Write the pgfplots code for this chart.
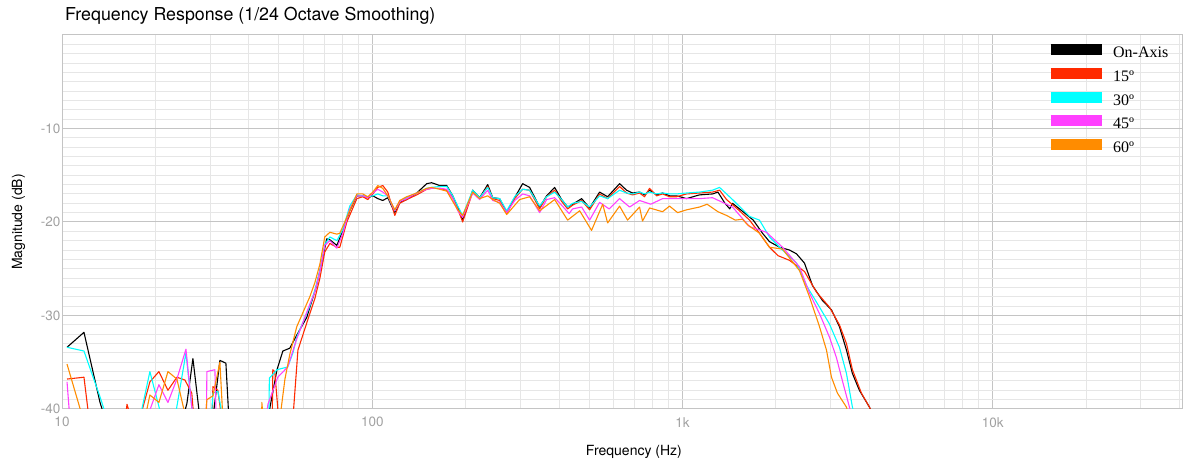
\documentclass[border=0pt]{standalone}
\usepackage{fontspec}
\setmainfont{TeX Gyre Heros}
\newfontfamily\legendfont{Liberation Serif}
\usepackage{pgfplots}
\pgfplotsset{compat=1.18}
\definecolor{cRed}{HTML}{FF2A00}
\definecolor{cCyan}{HTML}{00FFFF}
\definecolor{cMag}{HTML}{FF40FF}
\definecolor{cOra}{HTML}{FF8C00}
\definecolor{gMajor}{HTML}{C4C4C4}
\definecolor{gMinor}{HTML}{E6E6E6}
\definecolor{tickgray}{HTML}{A0A0A0}
\begin{document}
\begin{tikzpicture}
\useasboundingbox (-62pt,-56pt) rectangle (1140pt,409pt);
\begin{axis}[
  at={(0pt,0pt)}, anchor=south west,
  scale only axis, width=1121pt, height=374pt,
  xmode=log, xmin=10, xmax=41000, ymin=-40, ymax=0,
  xtick={10,100,1000,10000}, xticklabels={10,100,1k,10k},
  minor xtick={20,30,40,50,60,70,80,90,200,300,400,500,600,700,800,900,2000,3000,4000,5000,6000,7000,8000,9000,20000,30000,40000},
  ytick={-40,-30,-20,-10}, yticklabels={-40,-30,-20,-10},
  minor ytick={-39,-38,...,-1},
  grid=both,
  major grid style={draw=gMajor, line width=1pt},
  minor grid style={draw=gMinor, line width=1pt},
  axis line style={draw=gMajor, line width=1pt},
  major tick length=0pt, minor tick length=0pt,
  tick label style={color=tickgray, font=\fontsize{13.5}{16}\selectfont},
  yticklabel style={inner sep=1.5pt},
  xticklabel style={inner sep=0pt, yshift=-8pt},
  xlabel={Frequency (Hz)}, ylabel={Magnitude (dB)},
  label style={font=\fontsize{14}{16}\selectfont},
  xlabel style={at={(axis description cs:0.5102,-0.115)}, anchor=center},
  ylabel style={at={(axis description cs:-0.0388,0.5)}, anchor=center},
  no markers,
  every axis plot/.append style={line width=1.1pt, line join=round},
  legend image code/.code={\draw[line width=11pt] (0pt,3.5pt) -- (51pt,3.5pt);},
  legend style={draw=none, fill=none, at={(0.8769,0.9767)}, anchor=north west,
    inner sep=0pt, row sep=7.3pt, font=\legendfont\fontsize{16}{19}\selectfont,
    nodes={inner sep=0pt, text height=12pt, text depth=3pt},
    /tikz/every odd column/.append style={column sep=6pt}},
  legend cell align=left,
]
% On-Axis
\addplot[color=black] coordinates {
(10.38,-33.4) (11.77,-31.8) (13.26,-39.3) (13.76,-41) (14.2,-50) (24.0,-50)
(24.53,-41) (25.27,-39.4) (26.42,-34.6) (27.83,-41) (28.5,-50) (30.2,-50)
(30.64,-41) (32.28,-34.8) (33.75,-35.1) (34.5,-41) (35.5,-50) (45.5,-50)
(46.1,-41) (49.3,-35.8) (51.5,-33.8) (54.2,-33.5) (57.1,-32.1) (61.5,-30.2)
(65.9,-27.0) (69.0,-24.1) (71.3,-21.8) (73.0,-21.9) (76.9,-22.5) (80.4,-20.9)
(84.6,-18.8) (89.2,-17.2) (93.2,-17.2) (96.7,-17.4) (100.4,-17.2) (104.2,-17.5)
(108.1,-17.7) (112.2,-17.4) (118.2,-19.0) (122.6,-17.9) (129.1,-17.6) (139.1,-16.9)
(149.8,-15.9) (155.4,-15.8) (165.0,-16.1) (173.8,-16.1) (181.7,-17.2) (188.6,-18.4)
(195.6,-19.8) (210.7,-16.6) (221.9,-17.4) (235.5,-16.0) (244.4,-17.4) (257.4,-17.5)
(271.2,-19.0) (287.7,-17.4) (305.2,-15.9) (321.5,-16.3) (346.3,-18.4) (364.8,-17.2)
(387.1,-16.3) (407.7,-17.6) (426.2,-18.4) (442.3,-18.1) (472.9,-17.5) (501.7,-18.5)
(540.3,-16.8) (573.5,-17.3) (626.8,-15.9) (660.1,-16.6) (690.2,-16.9) (726.9,-16.8)
(754.4,-17.1) (783.0,-16.6) (824.7,-17.1) (862.1,-16.9) (908.1,-17.2) (956.5,-17.2)
(1030,-17.5) (1134,-17.1) (1249,-17.0) (1300,-16.8) (1370,-18.0) (1420,-18.6)
(1449,-18.0) (1540,-18.7) (1690,-19.8) (1810,-21.2) (1906,-22.1) (2054,-22.7)
(2211,-23.0) (2329,-23.4) (2472,-24.4) (2623,-26.8) (2825,-28.4) (3020,-29.4)
(3204,-31.2) (3375,-33.7) (3528,-36.2) (3715,-38.0) (4003,-39.8) (4154,-41)
};
\addlegendentry{On-Axis}
% 15
\addplot[color=cRed] coordinates {
(10.38,-36.8) (11.77,-36.6) (12.22,-41) (12.6,-50) (15.8,-50) (16.0,-41) (16.2,-39.5)
(16.7,-41) (17.2,-50) (17.6,-50) (17.83,-41) (19.20,-37.1) (20.53,-36.0) (21.95,-38.0)
(23.46,-36.6) (24.9,-36.9) (26.2,-38.3) (26.6,-41) (27.0,-50) (30.2,-50) (30.5,-41)
(30.64,-37.6) (31.8,-38.0) (32.7,-41) (33.2,-50) (47.2,-50) (47.6,-41) (47.8,-35.8)
(48.5,-36.0) (49.9,-41) (50.5,-50) (55.0,-50) (55.5,-41) (57.6,-33.7) (62.9,-29.8)
(65.3,-28.2) (67.8,-26.0) (70.3,-23.2) (73.0,-22.3) (76.9,-22.7) (78.6,-22.7)
(82.8,-20.0) (89.2,-17.5) (93.2,-17.3) (96.7,-17.6) (100.4,-17.0) (104.2,-16.3)
(108.1,-16.1) (112.2,-16.8) (118.2,-19.3) (122.6,-18.0) (129.1,-17.6) (139.1,-17.1)
(149.8,-16.5) (155.4,-16.4) (165.0,-16.4) (173.8,-16.6) (181.7,-17.4) (188.6,-18.6)
(195.6,-20.0) (210.7,-16.8) (221.9,-17.5) (235.5,-16.2) (244.4,-17.5) (257.4,-17.7)
(271.2,-19.1) (287.7,-17.5) (305.2,-16.5) (321.5,-16.6) (346.3,-18.6) (364.8,-17.3)
(387.1,-16.6) (407.7,-17.8) (426.2,-18.6) (442.3,-18.2) (472.9,-17.7) (501.7,-18.7)
(540.3,-17.0) (573.5,-17.5) (626.8,-16.2) (660.1,-16.9) (690.2,-17.1) (726.9,-16.9)
(754.4,-17.3) (783.0,-16.4) (824.7,-17.2) (862.1,-17.0) (908.1,-17.3) (956.5,-17.3)
(1030,-17.0) (1134,-16.9) (1249,-16.8) (1316,-16.6) (1386,-17.6) (1526,-18.8)
(1644,-19.8) (1770,-21.2) (1906,-22.7) (2030,-23.6) (2211,-24.1) (2472,-25.3)
(2702,-27.5) (2974,-29.1) (3204,-31.0) (3375,-33.0) (3528,-35.8) (3771,-38.3)
(4003,-39.8) (4154,-41)
};
\addlegendentry{15º}
% 30
\addplot[color=cCyan] coordinates {
(10.38,-33.4) (11.77,-33.8) (13.26,-38.7) (13.96,-41) (14.2,-50) (17.5,-50)
(17.83,-41) (19.20,-36.0) (21.0,-41) (21.3,-50) (22.8,-50) (23.11,-41) (25.09,-34.0)
(26.42,-41) (26.8,-50) (29.8,-50) (30.3,-41) (30.64,-38.3) (31.8,-38.1) (33.0,-41)
(33.5,-50) (45.8,-50) (46.4,-41) (46.6,-36.7) (49.3,-35.8) (53.4,-35.5) (55.5,-34.0)
(57.1,-32.3) (62.9,-29.0) (65.3,-27.3) (67.8,-25.2) (70.3,-22.4) (73.0,-21.6)
(76.9,-22.0) (80.4,-20.8) (84.6,-18.3) (89.2,-17.1) (93.2,-17.2) (96.7,-17.3)
(100.4,-17.2) (104.2,-17.0) (108.1,-17.2) (112.2,-17.2) (118.2,-18.8) (122.6,-17.8)
(129.1,-17.4) (139.1,-16.9) (149.8,-16.4) (155.4,-16.3) (165.0,-16.2) (173.8,-16.2)
(181.7,-17.2) (188.6,-18.3) (195.6,-19.3) (210.7,-16.6) (221.9,-17.4) (235.5,-16.3)
(244.4,-17.4) (257.4,-17.5) (271.2,-18.8) (287.7,-17.3) (305.2,-16.5) (321.5,-16.6)
(346.3,-18.3) (364.8,-17.3) (387.1,-16.8) (407.7,-17.6) (426.2,-18.4) (442.3,-18.0)
(472.9,-17.8) (501.7,-18.4) (540.3,-17.2) (573.5,-17.5) (626.8,-16.6) (660.1,-16.9)
(690.2,-17.0) (726.9,-16.8) (754.4,-17.0) (783.0,-16.8) (824.7,-17.0) (862.1,-16.9)
(908.1,-17.0) (956.5,-17.0) (1030,-16.9) (1134,-16.8) (1249,-16.6) (1316,-16.3)
(1449,-17.6) (1644,-19.4) (1770,-19.8) (1906,-21.6) (2100,-23.0) (2329,-24.4)
(2508,-26.8) (2763,-29.1) (2974,-30.9) (3204,-33.4) (3375,-36.2) (3528,-39.8) (3600,-41)
};
\addlegendentry{30º}
% 45
\addplot[color=cMag] coordinates {
(10.38,-37.1) (10.6,-41) (10.8,-50) (18.4,-50) (18.78,-41) (20.53,-37.4) (21.95,-39.3)
(23.46,-36.8) (25.09,-33.6) (26.42,-41) (26.8,-50) (28.9,-50) (29.2,-41) (29.31,-36.0)
(31.10,-35.8) (31.4,-41) (31.8,-50) (45.0,-50) (45.5,-41) (46.1,-39.5) (49.6,-36.6)
(53.4,-35.5) (57.1,-32.5) (62.9,-28.8) (65.3,-27.5) (67.8,-25.3) (70.3,-22.5)
(73.0,-22.0) (76.9,-22.8) (80.4,-21.2) (84.6,-18.6) (89.2,-17.2) (93.2,-17.2)
(96.7,-17.4) (100.4,-16.9) (104.2,-16.5) (108.1,-16.8) (112.2,-17.2) (118.2,-18.8)
(122.6,-17.8) (129.1,-17.5) (139.1,-16.9) (149.8,-16.5) (155.4,-16.4) (165.0,-16.4)
(173.8,-16.5) (181.7,-17.5) (188.6,-18.8) (195.6,-19.5) (210.7,-16.9) (221.9,-17.6)
(235.5,-16.6) (244.4,-17.7) (257.4,-17.9) (271.2,-19.0) (287.7,-17.7) (305.2,-17.0)
(321.5,-17.2) (346.3,-19.0) (364.8,-17.6) (387.1,-17.4) (407.7,-18.2) (431.0,-19.1)
(442.3,-18.6) (472.9,-18.4) (501.7,-19.8) (540.3,-17.9) (580.0,-18.6) (626.8,-17.5)
(675.0,-18.4) (726.9,-17.7) (790.0,-18.1) (862.1,-17.5) (956.5,-17.5) (1134,-17.5)
(1249,-17.4) (1449,-18.4) (1644,-20.5) (1864,-21.1) (2100,-22.7) (2382,-24.8)
(2565,-27.6) (2763,-29.8) (2974,-32.3) (3133,-34.5) (3276,-37.0) (3451,-39.8) (3520,-41)
};
\addlegendentry{45º}
% 60
\addplot[color=cOra] coordinates {
(10.38,-35.2) (11.68,-41) (12.0,-50) (18.2,-50) (18.51,-41) (19.20,-38.5) (20.53,-39.3)
(21.95,-36.0) (23.46,-36.8) (25.09,-41) (25.5,-50) (28.7,-50) (29.0,-41) (29.31,-39.0)
(30.64,-38.6) (32.28,-35.0) (33.0,-41) (33.5,-50) (43.7,-50) (44.0,-41) (44.07,-39.3)
(44.5,-41) (45.0,-50) (50.0,-50) (50.4,-41) (52.3,-36.8) (54.2,-34.2) (57.1,-31.2)
(62.9,-28.0) (65.3,-26.5) (67.8,-24.5) (70.3,-21.6) (73.0,-21.1) (76.9,-21.3)
(78.6,-21.2) (82.8,-19.5) (89.2,-17.0) (93.2,-17.0) (96.7,-17.3) (100.4,-16.8)
(104.2,-16.1) (108.1,-16.4) (112.2,-17.2) (118.2,-18.7) (122.6,-17.7) (129.1,-17.3)
(139.1,-16.9) (149.8,-16.4) (155.4,-16.3) (165.0,-16.5) (173.8,-16.7) (181.7,-17.8)
(188.6,-18.7) (195.6,-19.3) (210.7,-16.8) (221.9,-17.5) (235.5,-17.2) (244.4,-17.6)
(257.4,-18.0) (271.2,-19.2) (298.5,-17.6) (321.5,-17.3) (346.3,-18.8) (387.1,-17.6)
(426.2,-19.8) (466.0,-18.8) (509.0,-20.9) (553.0,-18.1) (573.5,-20.1) (626.8,-18.3)
(665.0,-19.8) (726.9,-18.4) (743.0,-19.9) (783.0,-18.5) (862.1,-18.9) (908.1,-18.3)
(964.0,-19.0) (1030,-18.7) (1134,-18.4) (1200,-18.1) (1300,-18.9) (1386,-19.3)
(1480,-19.8) (1560,-19.7) (1620,-20.3) (1770,-21.2) (1906,-22.7) (2100,-22.9)
(2382,-25.2) (2565,-28.0) (2763,-31.2) (2910,-33.7) (3020,-36.6) (3156,-38.3)
(3375,-39.8) (3450,-41)
};
\addlegendentry{60º}
\end{axis}
\node[anchor=base west, font=\fontsize{17.8}{20}\selectfont, inner sep=0pt] at (3pt,388.5pt)
  {Frequency Response (1/24 Octave Smoothing)};
\end{tikzpicture}
\end{document}
